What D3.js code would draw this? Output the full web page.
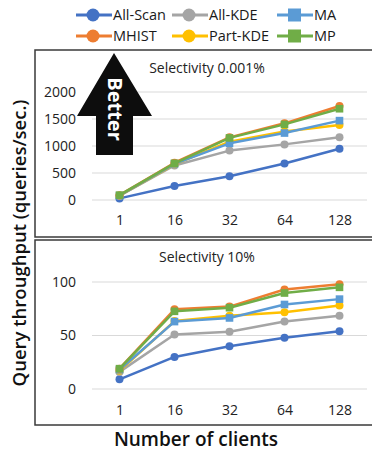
<!DOCTYPE html>
<html><head><meta charset="utf-8">
<script src="https://cdn.jsdelivr.net/npm/d3@7"></script>
<style>body{margin:0;background:#fff;} svg{display:block;font-family:"Open Sans",sans-serif;}</style>
</head><body>
<script>
const clients = ["1","16","32","64","128"];
const seriesNames = ["All-Scan","All-KDE","Part-KDE","MA","MHIST","MP"];
const seriesColors = {"All-Scan":"#4472C4","All-KDE":"#A5A5A5","MA":"#5B9BD5","MHIST":"#ED7D31","Part-KDE":"#FFC000","MP":"#70AD47"};
const seriesMarkers = {"All-Scan":"circle","All-KDE":"circle","MA":"square","MHIST":"circle","Part-KDE":"circle","MP":"square"};
const legendOrder = ["All-Scan","All-KDE","MA","MHIST","Part-KDE","MP"];

// Selectivity 0.001%
const allScan1 = [30, 260, 440, 675, 950];
const allKDE1  = [80, 640, 915, 1030, 1160];
const partKDE1 = [80, 660, 1080, 1270, 1390];
const ma1      = [80, 670, 1050, 1240, 1470];
const mhist1   = [90, 690, 1160, 1420, 1740];
const mp1      = [90, 680, 1150, 1400, 1690];
const yTicks1 = [0, 500, 1000, 1500, 2000];

// Selectivity 10%
const allScan2 = [9, 30, 40, 48, 54];
const allKDE2  = [16, 51, 53.5, 63, 68.5];
const partKDE2 = [17, 63.5, 68.5, 71.7, 78];
const ma2      = [18, 63, 66.4, 79, 84];
const mhist2   = [19, 74.5, 77, 93, 98];
const mp2      = [19, 72.6, 76, 89.7, 95];
const yTicks2 = [0, 50, 100];

const W = 372, H = 454;
const svg = d3.select("body").append("svg").attr("width", W).attr("height", H);

// legend
const legendPos = [[76,15],[172,15],[277,15],[76,36],[172,36],[277,36]];
legendOrder.forEach((name, i) => {
  const [lx, ly] = legendPos[i];
  const g = svg.append("g").attr("transform", `translate(${lx},${ly})`);
  g.append("line").attr("x1", 0).attr("x2", 36).attr("y1", 0).attr("y2", 0)
    .attr("stroke", seriesColors[name]).attr("stroke-width", 3);
  if (seriesMarkers[name] === "circle") {
    g.append("circle").attr("cx", 17).attr("cy", 0).attr("r", 6.5).attr("fill", seriesColors[name]);
  } else {
    g.append("rect").attr("x", 11).attr("y", -6.5).attr("width", 13).attr("height", 13).attr("fill", seriesColors[name]);
  }
  g.append("text").attr("x", 37).attr("y", 0).attr("dy", "0.35em")
    .attr("font-size", 14.5).attr("fill", "#1a1a1a").text(name);
});

const x = d3.scalePoint().domain(clients).range([92, 367]).padding(0.5);

function drawPanel(top, bottom, yScale, ticks, title, titleY, xLabelY, data) {
  svg.append("rect").attr("x", 35).attr("y", top).attr("width", 345).attr("height", bottom - top)
    .attr("fill", "none").attr("stroke", "#3a3a3a").attr("stroke-width", 1.5);
  const g = svg.append("g");
  g.selectAll(".grid").data(ticks).join("line")
    .attr("x1", 92).attr("x2", 367)
    .attr("y1", d => yScale(d)).attr("y2", d => yScale(d))
    .attr("stroke", "#d9d9d9").attr("stroke-width", 1);
  const yAxis = d3.axisLeft(yScale).tickValues(ticks).tickFormat(d3.format("d")).tickSize(0).tickPadding(0);
  const ya = g.append("g").attr("transform", "translate(76,0)").call(yAxis);
  ya.select(".domain").remove();
  ya.selectAll("text").attr("font-size", 14).attr("fill", "#222").attr("font-family", "Open Sans");
  const xAxis = d3.axisBottom(x).tickSize(0).tickPadding(0);
  const xa = g.append("g").attr("transform", `translate(0,${xLabelY})`).call(xAxis);
  xa.select(".domain").remove();
  xa.selectAll("text").attr("font-size", 14).attr("fill", "#222").attr("font-family", "Open Sans").attr("dy", "0.35em");
  g.append("text").attr("x", 207).attr("y", titleY).attr("text-anchor", "middle").attr("dy", "0.35em")
    .attr("font-size", 14).attr("fill", "#222").text(title);
  const line = d3.line().x((d, i) => x(clients[i])).y(d => yScale(d));
  seriesNames.forEach(name => {
    const vals = data[name];
    const c = seriesColors[name];
    g.append("path").datum(vals).attr("d", line).attr("fill", "none")
      .attr("stroke", c).attr("stroke-width", 2.5).attr("stroke-linejoin", "round");
    if (seriesMarkers[name] === "circle") {
      g.selectAll(null).data(vals).join("circle")
        .attr("cx", (d, i) => x(clients[i])).attr("cy", d => yScale(d)).attr("r", 4).attr("fill", c);
    } else {
      g.selectAll(null).data(vals).join("rect")
        .attr("x", (d, i) => x(clients[i]) - 3.8).attr("y", d => yScale(d) - 3.8)
        .attr("width", 7.6).attr("height", 7.6).attr("fill", c);
    }
  });
  return g;
}

const y1 = d3.scaleLinear().domain([0, 2000]).range([200, 92]);
drawPanel(50, 237, y1, yTicks1, "Selectivity 0.001%", 68, 220,
  {"All-Scan": allScan1, "All-KDE": allKDE1, "Part-KDE": partKDE1, "MA": ma1, "MHIST": mhist1, "MP": mp1});

// Better arrow
const arrow = svg.append("g");
arrow.append("path")
  .attr("d", "M114,53 L152,116 L133,116 L133,155 L96,155 L96,116 L77,116 Z")
  .attr("fill", "#0d0d0d");
arrow.append("text").attr("transform", "translate(114.5,109) rotate(90)")
  .attr("text-anchor", "middle").attr("dy", "0.35em")
  .attr("font-size", 20).attr("font-weight", "bold").attr("fill", "#fff").text("Better");

const y2 = d3.scaleLinear().domain([0, 100]).range([389, 282]);
drawPanel(240, 425, y2, yTicks2, "Selectivity 10%", 257, 410,
  {"All-Scan": allScan2, "All-KDE": allKDE2, "Part-KDE": partKDE2, "MA": ma2, "MHIST": mhist2, "MP": mp2});

svg.append("text").attr("transform", "translate(20,243) rotate(-90)")
  .attr("text-anchor", "middle").attr("dy", "0.35em")
  .attr("font-size", 18.5).attr("font-weight", 600).attr("fill", "#111")
  .text("Query throughput (queries/sec.)");
svg.append("text").attr("x", 196).attr("y", 439).attr("text-anchor", "middle").attr("dy", "0.35em")
  .attr("font-size", 19).attr("font-weight", 600).attr("fill", "#111")
  .text("Number of clients");
</script>
</body></html>
